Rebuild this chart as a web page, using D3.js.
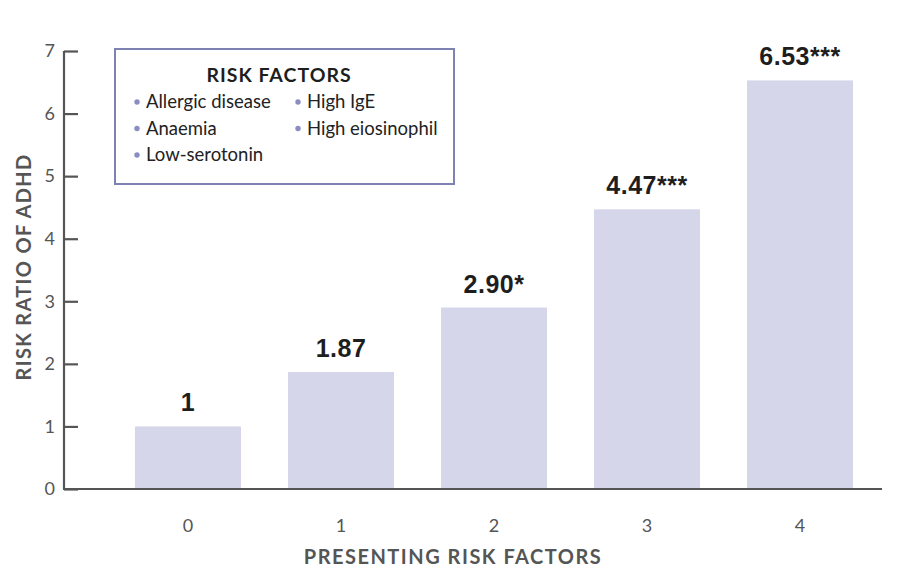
<!DOCTYPE html>
<html>
<head>
<meta charset="utf-8">
<script src="https://cdn.jsdelivr.net/npm/d3@7"></script>
<style>
  body { margin: 0; background: #fff; }
  svg { display: block; }
</style>
</head>
<body>
<div id="chart"></div>
<script>
// Risk ratio of ADHD by number of presenting risk factors

const categories = ['0', '1', '2', '3', '4'];
const riskRatios = [1, 1.87, 2.90, 4.47, 6.53];
const valueLabels = ['1', '1.87', '2.90*', '4.47***', '6.53***'];
const yTicks = [0, 1, 2, 3, 4, 5, 6, 7];
const legendTitle = 'RISK FACTORS';
const legendItems = ['Allergic disease', 'High IgE', 'Anaemia', 'High eiosinophil', 'Low-serotonin'];

const width = 900;
const height = 581;

const svg = d3.select('#chart')
  .append('svg')
  .attr('width', width)
  .attr('height', height);

const x = d3.scaleBand()
  .domain(categories)
  .range([88, 900])
  .paddingInner(0.307)
  .paddingOuter(0.307);

const y = d3.scaleLinear()
  .domain([0, 7])
  .range([489, 51]);

// Bars
svg.selectAll('.bar')
  .data(riskRatios)
  .enter()
  .append('rect')
  .attr('class', 'bar')
  .attr('x', (d, i) => x(categories[i]))
  .attr('y', d => y(d))
  .attr('width', x.bandwidth())
  .attr('height', d => y(0) - y(d))
  .attr('fill', '#d6d6eb');

// Value labels
svg.selectAll('.value')
  .data(riskRatios)
  .enter()
  .append('text')
  .attr('x', (d, i) => x(categories[i]) + x.bandwidth() / 2)
  .attr('y', d => y(d) - 15)
  .attr('text-anchor', 'middle')
  .style('font-family', '"Liberation Sans", Arial, sans-serif')
  .style('font-size', '25px')
  .style('font-weight', '700')
  .style('letter-spacing', '0.5px')
  .style('fill', '#1e1e1e')
  .text((d, i) => valueLabels[i]);

// Y axis
const yAxis = svg.append('g')
  .attr('transform', 'translate(64,0)')
  .call(d3.axisRight(y).tickValues(yTicks).tickSize(14).tickFormat(d3.format('d')));

yAxis.select('.domain')
  .attr('d', `M0,${y(7)}V${y(0)}`)
  .attr('stroke', '#555')
  .attr('stroke-width', 2.2);

yAxis.selectAll('.tick line')
  .attr('stroke', '#555')
  .attr('stroke-width', 2.2);

yAxis.selectAll('.tick text')
  .attr('x', -9)
  .attr('text-anchor', 'end')
  .style('font-family', 'Lato, sans-serif')
  .style('font-size', '18px')
  .style('fill', '#555');

// X axis
const xAxis = svg.append('g')
  .attr('transform', `translate(0,${y(0)})`)
  .call(d3.axisBottom(x).tickSize(0).tickPadding(30));

xAxis.select('.domain')
  .attr('d', 'M63,0H882')
  .attr('stroke', '#555')
  .attr('stroke-width', 2.2);

xAxis.selectAll('.tick text')
  .style('font-family', 'Lato, sans-serif')
  .style('font-size', '18px')
  .style('fill', '#555');

// Axis titles
svg.append('text')
  .attr('x', 453)
  .attr('y', 564)
  .attr('text-anchor', 'middle')
  .style('font-family', 'Lato, sans-serif')
  .style('font-size', '20px')
  .style('font-weight', '700')
  .style('letter-spacing', '1.5px')
  .style('fill', '#555')
  .text('PRESENTING RISK FACTORS');

svg.append('text')
  .attr('transform', 'translate(31,267) rotate(-90)')
  .attr('text-anchor', 'middle')
  .style('font-family', 'Lato, sans-serif')
  .style('font-size', '20px')
  .style('font-weight', '700')
  .style('letter-spacing', '1.3px')
  .style('fill', '#555')
  .text('RISK RATIO OF ADHD');

// Legend box
const legend = svg.append('g');

legend.append('rect')
  .attr('x', 115)
  .attr('y', 49)
  .attr('width', 339)
  .attr('height', 135)
  .attr('fill', '#fff')
  .attr('stroke', '#7d82b3')
  .attr('stroke-width', 2);

legend.append('text')
  .attr('x', 279)
  .attr('y', 82)
  .attr('text-anchor', 'middle')
  .style('font-family', 'Lato, sans-serif')
  .style('font-size', '19.5px')
  .style('font-weight', '700')
  .style('letter-spacing', '1px')
  .style('fill', '#1e1e1e')
  .text(legendTitle);

const items = legend.selectAll('.item')
  .data(legendItems)
  .enter()
  .append('g')
  .attr('transform', (d, i) => `translate(${i % 2 === 0 ? 137 : 298},${108 + Math.floor(i / 2) * 26.5})`);

items.append('circle')
  .attr('cx', 0)
  .attr('cy', -6)
  .attr('r', 2.7)
  .attr('fill', '#8a8dc4');

items.append('text')
  .attr('x', 9)
  .attr('y', 0)
  .style('font-family', 'Lato, sans-serif')
  .style('font-size', '18.5px')
  .style('fill', '#222')
  .text(d => d);
</script>
</body>
</html>
